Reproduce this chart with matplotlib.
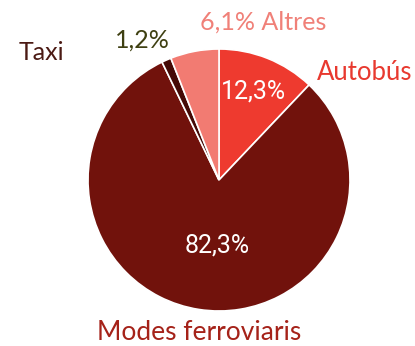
import matplotlib.pyplot as plt

# Repartiment modal (%)
categories = ['Autobús', 'Modes ferroviaris', 'Taxi', 'Altres']
shares = [12.3, 82.3, 1.2, 6.1]
share_labels = ['12,3%', '82,3%', '1,2%', '6,1%']
colors = ['#EE3A2F', '#71120C', '#460A06', '#F27B72']

plt.rcParams['font.family'] = ['Lato', 'DejaVu Sans']

fig = plt.figure(figsize=(4.15, 3.46), dpi=100)
ax = fig.add_axes([0, 0, 1, 1])

# pixel scale: pie centre at (219, 180), radius 131
r = 131.0

ax.pie(shares, colors=colors, startangle=90, counterclock=False,
       radius=1.0, center=(0, 0), frame=True,
       wedgeprops=dict(edgecolor='white', linewidth=1.2))
ax.set_xlim(-219 / r, (415 - 219) / r)
ax.set_ylim(-(346 - 180) / r, 180 / r)
ax.set_aspect('equal')
ax.axis('off')


def px(x, y):
    return (x - 219) / r, (180 - y) / r


pct_font = dict(family=['Roboto', 'DejaVu Sans'], fontsize=18)

ax.text(*px(253, 92), share_labels[0], color='white', ha='center', va='center', **pct_font)
ax.text(*px(217, 245), share_labels[1], color='white', ha='center', va='center', **pct_font)
ax.text(*px(142, 40), share_labels[2], color='#3F4012', ha='center', va='center', fontsize=18)

ax.text(*px(365, 72), categories[0], color='#E8392F', ha='center', va='center', fontsize=18.5)
ax.text(*px(199, 333), categories[1], color='#A52219', ha='center', va='center', fontsize=19)
ax.text(*px(41, 52), categories[2], color='#4B1A14', ha='center', va='center', fontsize=18)
ax.text(*px(263, 22), share_labels[3] + ' ' + categories[3], color='#F08078',
        ha='center', va='center', fontsize=18)

fig.savefig('out.png', dpi=100)
